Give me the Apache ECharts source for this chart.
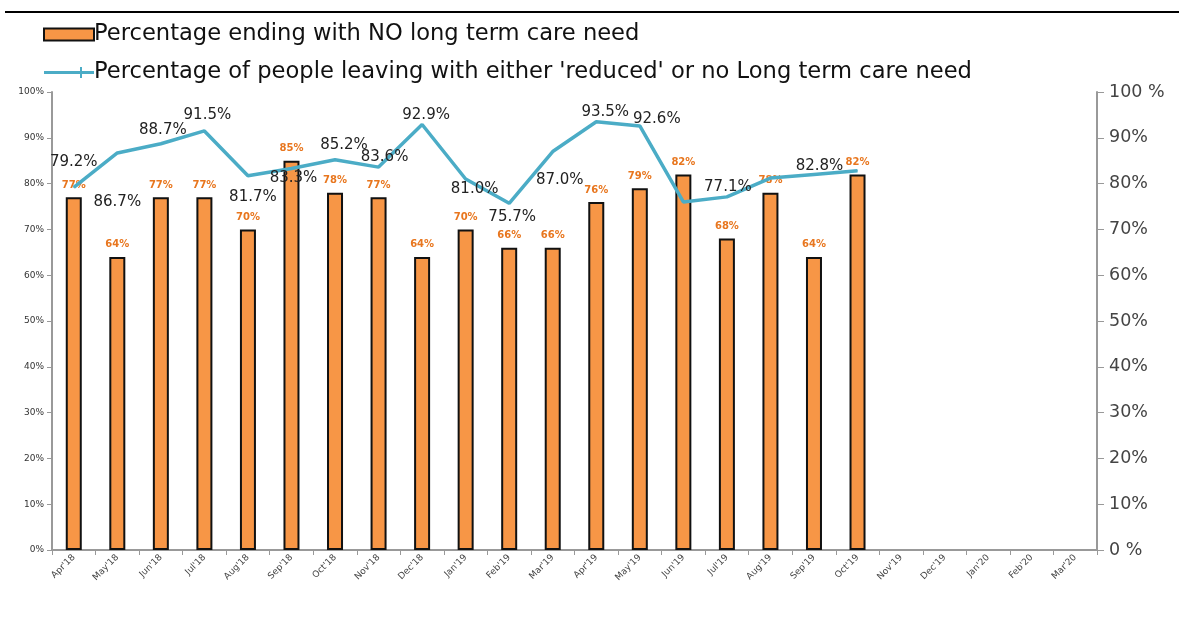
<!DOCTYPE html>
<html>
<head>
<meta charset="utf-8">
<script src="https://cdn.jsdelivr.net/npm/echarts@6/dist/echarts.min.js"></script>
<style>
  html, body { margin: 0; padding: 0; background: #fff; }
  #chart { width: 1179px; height: 634px; }
</style>
</head>
<body>
<div id="chart"></div>
<script>
// 数据
var months = ["Apr'18", "May'18", "Jun'18", "Jul'18", "Aug'18", "Sep'18", "Oct'18", "Nov'18", "Dec'18",
  "Jan'19", "Feb'19", "Mar'19", "Apr'19", "May'19", "Jun'19", "Jul'19", "Aug'19", "Sep'19", "Oct'19",
  "Nov'19", "Dec'19", "Jan'20", "Feb'20", "Mar'20"];
var noCareNeed = [77, 64, 77, 77, 70, 85, 78, 77, 64, 70, 66, 66, 76, 79, 82, 68, 78, 64, 82];
var reducedOrNone = [79.2, 86.7, 88.7, 91.5, 81.7, 83.3, 85.2, 83.6, 92.9, 81.0, 75.7, 87.0, 93.5, 92.6, 76.0, 77.1, 81.2, 82.0, 82.8];

// 折线标签偏移 (dx, dy)，null = 不显示
var lineLabelOffset = [[0, -25], [0, 49], [2, -14], [3, -16], [5, 21], [2, 10], [9, -15], [6, -10], [4, -9],
  [9, 10], [3, 14], [7, 29], [9, -10], [17, -7], null, [1, -10], null, null, [-38, -5]];

var chart = echarts.init(document.getElementById('chart'));

var lineData = reducedOrNone.map(function (v, i) {
  return { value: v, label: { show: !!lineLabelOffset[i] } };
});

var option = {
  animation: false,
  textStyle: { fontFamily: 'DejaVu Sans, Arial, sans-serif' },
  legend: {
    left: 38,
    top: 18,
    orient: 'vertical',
    itemGap: 15,
    itemWidth: 50,
    itemHeight: 12,
    textStyle: { fontSize: 22.6, color: '#111', padding: [0, 0, 0, -5] },
    data: [
      { name: 'Percentage ending with NO long term care need', icon: 'rect',
        itemStyle: { borderColor: '#111', borderWidth: 2 } },
      { name: "Percentage of people leaving with either 'reduced' or no Long term care need",
        icon: 'path://M0,4h50v3H0z M36,0h2v11h-2z' }
    ]
  },
  graphic: [
    { type: 'line', shape: { x1: 5, y1: 12, x2: 1179, y2: 12 }, style: { stroke: '#000', lineWidth: 2 } }
  ],
  grid: { left: 52, right: 82, top: 92, bottom: 84 },
  xAxis: {
    type: 'category',
    data: months,
    axisLine: { lineStyle: { color: '#999', width: 2 } },
    axisTick: { show: true, alignWithLabel: false, length: 5, lineStyle: { color: '#999' } },
    axisLabel: { rotate: 45, fontSize: 9, color: '#444', margin: 6, interval: 0 }
  },
  yAxis: [
    {
      type: 'value', min: 0, max: 100, interval: 10, position: 'left',
      axisLine: { show: true, lineStyle: { color: '#999', width: 2 } },
      axisTick: { show: true, length: 5, lineStyle: { color: '#999' } },
      splitLine: { show: false },
      axisLabel: { fontSize: 9, color: '#333', margin: 8, formatter: '{value}%' }
    },
    {
      type: 'value', min: 0, max: 100, interval: 10, position: 'right',
      axisLine: { show: true, lineStyle: { color: '#999', width: 2 } },
      axisTick: { show: true, length: 7, lineStyle: { color: '#999' } },
      splitLine: { show: false },
      axisLabel: {
        fontSize: 17.5, color: '#444', margin: 12,
        formatter: function (v) { return (v === 0 || v === 100) ? v + ' %' : v + '%'; }
      }
    }
  ],
  series: [
    {
      name: 'Percentage ending with NO long term care need',
      type: 'bar',
      data: noCareNeed,
      barWidth: 16,
      itemStyle: { color: '#F79646', borderColor: '#111', borderWidth: 2 },
      label: {
        show: true, position: 'top', distance: 7,
        fontSize: 10, fontWeight: 'bold', color: '#E8761E',
        formatter: '{c}%'
      }
    },
    {
      name: "Percentage of people leaving with either 'reduced' or no Long term care need",
      type: 'line',
      yAxisIndex: 1,
      data: lineData,
      symbol: 'circle',
      symbolSize: 1,
      showSymbol: true,
      lineStyle: { color: '#4BACC6', width: 3.5 },
      itemStyle: { color: '#4BACC6' },
      label: {
        show: true, position: 'inside', fontSize: 15, color: '#222',
        formatter: function (p) { return p.value.toFixed(1) + '%'; }
      },
      labelLayout: function (params) {
        var o = lineLabelOffset[params.dataIndex] || [0, 0];
        return { dx: o[0], dy: o[1], hideOverlap: false };
      },
      z: 3
    }
  ]
};

chart.setOption(option);
</script>
</body>
</html>
